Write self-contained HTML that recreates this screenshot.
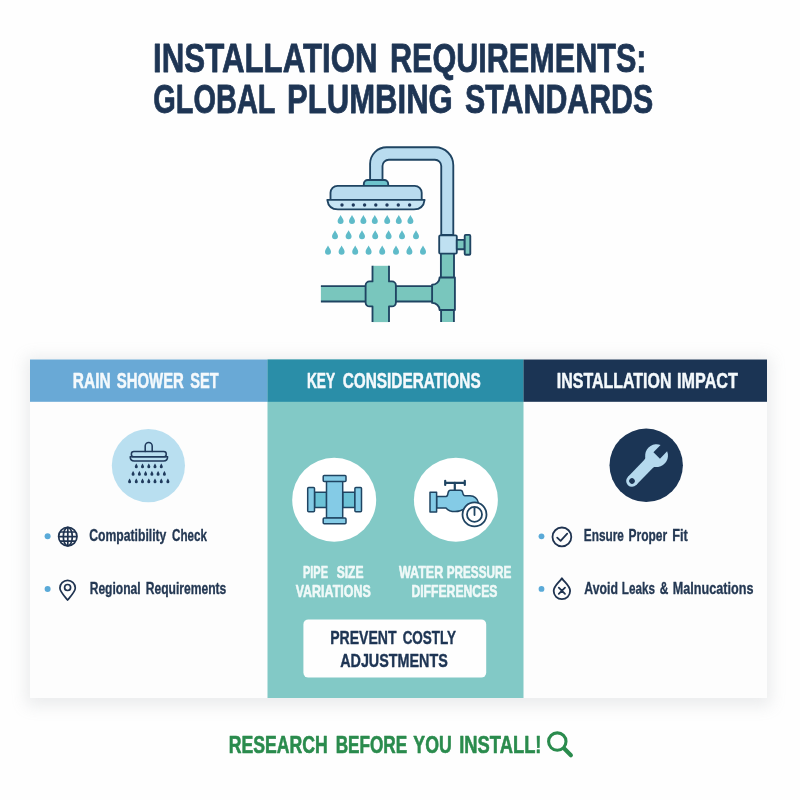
<!DOCTYPE html>
<html lang="en">
<head>
<meta charset="utf-8">
<title>Installation Requirements: Global Plumbing Standards</title>
<style>
html,body{margin:0;padding:0;background:#fefefe;}
body{width:800px;height:800px;overflow:hidden;position:relative;font-family:"Liberation Sans",sans-serif;}
svg{position:absolute;left:0;top:0;display:block;}
text{font-family:"Liberation Sans",sans-serif;}
.b{font-weight:bold;}
</style>
</head>
<body>
<svg width="800" height="800" viewBox="0 0 800 800">
<defs>
  <filter id="sh" x="-10%" y="-20%" width="120%" height="140%">
    <feGaussianBlur stdDeviation="8"/>
  </filter>
  <path id="drop" d="M0,-4.5 C1.2,-2.2 3,-0.3 3,1.6 A3,3 0 0 1 -3,1.6 C-3,-0.3 -1.2,-2.2 0,-4.5 Z"/>
  <path id="sdrop" d="M0,-2.4 C0.6,-1.2 1.5,-0.2 1.5,0.8 A1.5,1.5 0 0 1 -1.5,0.8 C-1.5,-0.2 -0.6,-1.2 0,-2.4 Z"/>
</defs>
<rect x="0" y="0" width="800" height="800" fill="#fefefe"/>

<!-- TITLE -->

<!-- HERO ILLUSTRATION -->
<g id="hero" stroke="#1f4462" stroke-width="1.85" stroke-linejoin="round" stroke-linecap="round">
  <!-- teal pipes -->
  <g fill="#79c6bd">
    <rect x="320.9" y="286.1" width="45" height="15.4" stroke="none"/>
    <path d="M320.9,286.1 H365.6 M320.9,301.5 H365.6" fill="none" stroke-linecap="butt"/>
    <rect x="395.9" y="286.1" width="36.2" height="15.4" stroke="none"/>
    <path d="M395.9,286.1 H432.1 M395.9,301.5 H432.1" fill="none" stroke-linecap="butt"/>
    <rect x="372.5" y="265.8" width="16.5" height="56.3" stroke="none"/>
    <rect x="365.6" y="281.4" width="30.3" height="25" rx="4" stroke="none"/>
    <path d="M372.5,265.8 V281.4 H369.6 A4,4 0 0 0 365.6,285.4 V302.4 A4,4 0 0 0 369.6,306.4 H372.5 V322.1 M389,265.8 V281.4 H391.9 A4,4 0 0 1 395.9,285.4 V302.4 A4,4 0 0 1 391.9,306.4 H389 V322.1" fill="none" stroke-linecap="butt"/>
    <rect x="440.9" y="254" width="13.1" height="68" stroke="none"/>
    <path d="M440.9,254 V278 M454,254 V278 M441.1,310 V322 M453.9,310 V322" fill="none" stroke-linecap="butt"/>
    <path d="M439.6,277.5 H454.9 V310 H439.6 A7.5,7.1 0 0 0 432.1,302.9 V284.7 A7.5,7.2 0 0 0 439.6,277.5 Z"/>
  </g>
  <!-- blue pipe -->
  <path d="M370.1,181 V163.7 A16.5,16.5 0 0 1 386.6,147.2 H435.3 A18,18 0 0 1 453.3,165.2 V235 H441.25 V166 A6.3,6.3 0 0 0 434.95,159.7 H388.8 A6.3,6.3 0 0 0 382.5,166 V181 Z" fill="#b9dcef"/>
  <!-- valve -->
  <rect x="439.2" y="235.4" width="17.6" height="18.2" rx="1.2" fill="#bfe0f1"/>
  <rect x="456.8" y="239.9" width="7.8" height="9.4" fill="#79c6bd"/>
  <rect x="464.7" y="234.9" width="5.6" height="19.8" rx="1" fill="#79c6bd"/>
  <!-- shower head -->
  <path d="M363.8,186 V184 A4,4 0 0 1 367.8,180 H384.2 A4,4 0 0 1 388.2,184 V186 Z" fill="#6cc3cc"/>
  <path d="M330.5,200 V192.8 A7,7 0 0 1 337.5,185.8 H414.7 A7,7 0 0 1 421.7,192.8 V200 Z" fill="#b9dcef"/>
  <path d="M327.3,199.8 H424.6 Q423.4,209.3 414,209.3 H337.9 Q328.5,209.3 327.3,199.8 Z" fill="#c6e4f3"/>
  <g fill="#1f3a5c" stroke="none">
    <circle cx="342" cy="205" r="1.7"/><circle cx="353.3" cy="205" r="1.7"/><circle cx="364.6" cy="205" r="1.7"/><circle cx="375.8" cy="205" r="1.7"/><circle cx="387" cy="205" r="1.7"/><circle cx="398.3" cy="205" r="1.7"/><circle cx="409.6" cy="205" r="1.7"/>
  </g>
  <!-- drops -->
  <g fill="#5fbbc9" stroke="none">
    <use href="#drop" x="340.6" y="219.5"/><use href="#drop" x="352" y="219.5"/><use href="#drop" x="363.4" y="219.5"/><use href="#drop" x="374.8" y="219.5"/><use href="#drop" x="387.2" y="219.5"/><use href="#drop" x="398.8" y="219.5"/><use href="#drop" x="410.4" y="219.5"/>
    <use href="#drop" x="335" y="234.7"/><use href="#drop" x="348.6" y="234.7"/><use href="#drop" x="362" y="234.7"/><use href="#drop" x="375.2" y="234.7"/><use href="#drop" x="388.6" y="234.7"/><use href="#drop" x="402" y="234.7"/><use href="#drop" x="416" y="234.7"/>
    <use href="#drop" x="328" y="250.1"/><use href="#drop" x="341.6" y="250.1"/><use href="#drop" x="355.2" y="250.1"/><use href="#drop" x="368.6" y="250.1"/><use href="#drop" x="382.2" y="250.1"/><use href="#drop" x="396" y="250.1"/><use href="#drop" x="409.4" y="250.1"/><use href="#drop" x="423" y="250.1"/>
  </g>
</g>

<!-- CARD -->
<rect x="26" y="357" width="745" height="349" fill="#8f959b" opacity="0.17" filter="url(#sh)"/>
<rect x="30" y="359.5" width="737" height="338.5" fill="#fdfdfd"/>
<rect x="267.5" y="359.5" width="256" height="338.5" fill="#82c9c6"/>
<rect x="30" y="359.5" width="237.5" height="42.3" fill="#69a9d6"/>
<rect x="267.5" y="359.5" width="256" height="42.3" fill="#2a8ea8"/>
<rect x="523.5" y="359.5" width="243.5" height="42.3" fill="#1b3454"/>


<!-- COLUMN 1 -->
<circle cx="148.4" cy="465.6" r="36.6" fill="#b9dff0"/>
<g id="ic-shower" fill="none" stroke="#1f3a5c" stroke-width="1.55" stroke-linejoin="round" stroke-linecap="round">
  <path d="M145.2,451.4 V446 A3.5,3.5 0 0 1 152.2,446 V451.4"/>
  <rect x="131.4" y="451.4" width="34.8" height="5.4" rx="2.4"/>
  <path d="M130.2,456.8 H167.6 Q167.6,461 163.6,461 H134.2 Q130.2,461 130.2,456.8 Z"/>
  <g fill="#1f3a5c" stroke="none">
    <use href="#sdrop" x="136.3" y="466"/><use href="#sdrop" x="142.5" y="466"/><use href="#sdrop" x="148.8" y="466"/><use href="#sdrop" x="155" y="466"/><use href="#sdrop" x="161.3" y="466"/>
    <use href="#sdrop" x="133.1" y="473.5"/><use href="#sdrop" x="139.4" y="473.5"/><use href="#sdrop" x="145.6" y="473.5"/><use href="#sdrop" x="151.9" y="473.5"/><use href="#sdrop" x="158.1" y="473.5"/><use href="#sdrop" x="164.4" y="473.5"/>
    <use href="#sdrop" x="129.6" y="481"/><use href="#sdrop" x="136.3" y="481"/><use href="#sdrop" x="142.5" y="481"/><use href="#sdrop" x="148.8" y="481"/><use href="#sdrop" x="155" y="481"/><use href="#sdrop" x="161.3" y="481"/><use href="#sdrop" x="167.9" y="481"/>
  </g>
</g>

<circle cx="47.6" cy="536.3" r="3" fill="#5aaad8"/>
<circle cx="47.6" cy="588.9" r="3" fill="#5aaad8"/>
<g id="ic-globe" fill="none" stroke="#1f3350" stroke-width="1.7">
  <circle cx="67.8" cy="536.6" r="9.2"/>
  <ellipse cx="67.8" cy="536.6" rx="4.5" ry="9.2"/>
  <path d="M67.8,527.4 V545.8 M58.6,536.6 H77 M59.9,532 H75.7 M59.9,541.2 H75.7"/>
</g>
<g id="ic-pin" fill="none" stroke="#1f3350" stroke-width="1.7" stroke-linejoin="round">
  <path d="M67.6,600 C63,594.6 59.9,591.4 59.9,588 A7.7,7.7 0 0 1 75.3,588 C75.3,591.4 72.2,594.6 67.6,600 Z"/>
  <circle cx="67.6" cy="587.5" r="3"/>
</g>

<!-- COLUMN 2 -->
<circle cx="334.2" cy="499.8" r="42" fill="#ffffff"/>
<g id="ic-cross" stroke="#1f4462" stroke-width="1.5" stroke-linejoin="round">
  <rect x="314.6" y="492.2" width="12" height="15.2" fill="#6cc2d6"/>
  <rect x="342.7" y="492.2" width="12.2" height="15.2" fill="#6cc2d6"/>
  <rect x="326.5" y="481.3" width="16.2" height="36.8" fill="#84cbe6"/>
  <rect x="323.2" y="475.6" width="22.8" height="5.8" rx="1" fill="#84cbe6"/>
  <rect x="323.2" y="518" width="22.8" height="5.8" rx="1" fill="#84cbe6"/>
  <rect x="307.7" y="487.6" width="6.8" height="24.2" rx="1" fill="#84cbe6"/>
  <rect x="354.9" y="487.6" width="6.6" height="24.2" rx="1" fill="#84cbe6"/>
</g>

<circle cx="455.9" cy="499.8" r="42" fill="#ffffff"/>
<g id="ic-faucet" stroke="#1f4462" stroke-width="1.5" stroke-linejoin="round" stroke-linecap="round">
  <path d="M445.2,482.9 H464.8 M445.2,480.8 V485 M464.8,480.8 V485" fill="none" stroke-width="2.2"/>
  <path d="M454.8,482.9 V490" fill="none" stroke-width="2.2"/>
  <path d="M436.6,496.6 H446 Q447.6,496.4 448,493.2 Q448.4,490.2 450.4,490.2 H460.4 Q462.4,490.2 462.8,493 Q463.2,495.8 465,495.8 H470 Q476.6,496 478.4,502.6 L472,506 Q468,506 466,507.6 Q461,511.6 455,511.6 Q449,511.6 446,508 H436.6 Z" fill="#84cbe6"/>
  <rect x="430" y="492.3" width="6.6" height="19.8" fill="#84cbe6"/>
  <circle cx="474.5" cy="514.4" r="12" fill="#ffffff" stroke-width="1.8"/>
  <circle cx="474.5" cy="514.4" r="7.5" fill="#ffffff" stroke-width="1.8"/>
  <path d="M474.5,508.2 V515" fill="none" stroke-width="1.8"/>
</g>


<rect x="303.4" y="619.4" width="182.8" height="58.2" rx="5" fill="#fefefe"/>

<!-- COLUMN 3 -->
<circle cx="646.2" cy="465.3" r="36.7" fill="#1b3555"/>
<g id="ic-wrench" fill="#b5d9ee" transform="translate(632 481) rotate(-45.9)">
  <circle cx="0" cy="0" r="5.85"/>
  <rect x="0" y="-5.85" width="27" height="11.7"/>
  <path d="M24,-5.85 Q26.5,-5.85 27.2,-7.4 L27.2,7.4 Q26.5,5.85 24,5.85 Z"/>
  <path d="M45.75,4.55 A11.4,11.4 0 1 1 45.75,-4.55 L35.5,-4.55 L35.5,4.55 Z"/>
  <circle cx="0" cy="0" r="2.8" fill="#1b3555"/>
</g>

<circle cx="541.5" cy="536.3" r="2.9" fill="#5aaad8"/>
<circle cx="541.5" cy="588.9" r="2.9" fill="#5aaad8"/>
<g id="ic-check" fill="none" stroke="#1f3350" stroke-width="1.8" stroke-linecap="round" stroke-linejoin="round">
  <circle cx="561.9" cy="536.9" r="9.4"/>
  <path d="M557.2,537.6 L560.6,540.8 L567.2,533.6"/>
</g>
<g id="ic-leak" fill="none" stroke="#1f3350" stroke-width="1.8" stroke-linecap="round" stroke-linejoin="round">
  <path d="M561.9,578.2 C564.6,582.6 570.1,585.8 570.1,591 A8.2,8.2 0 0 1 553.7,591 C553.7,585.8 559.2,582.6 561.9,578.2 Z"/>
  <path d="M558.8,587.7 L565,593.9 M565,587.7 L558.8,593.9"/>
</g>

<!-- FOOTER -->
<g id="footer">
  <circle cx="557.3" cy="741.6" r="8.7" fill="none" stroke="#2a8b4d" stroke-width="3.1"/>
  <path d="M564.2,748.5 L570.9,755.3" stroke="#2a8b4d" stroke-width="4.1" stroke-linecap="round" fill="none"/>
</g>
<g class="b" font-size="40.1" fill="#1e3554" stroke="#1e3554" stroke-width="0.8" stroke-linejoin="round" opacity="0.999">
  <text x="153.11" y="71.70" textLength="224.39" lengthAdjust="spacingAndGlyphs">INSTALLATION</text>
  <text x="389.90" y="71.70" textLength="256.64" lengthAdjust="spacingAndGlyphs">REQUIREMENTS:</text>
  <text x="153.23" y="113.00" textLength="122.34" lengthAdjust="spacingAndGlyphs">GLOBAL</text>
  <text x="287.07" y="113.00" textLength="165.72" lengthAdjust="spacingAndGlyphs">PLUMBING</text>
  <text x="465.10" y="113.00" textLength="188.14" lengthAdjust="spacingAndGlyphs">STANDARDS</text>
</g>
<g class="b" font-size="21.4" fill="#f4f9fc" stroke="#f4f9fc" stroke-width="0.5" stroke-linejoin="round" opacity="0.999">
  <text x="72.87" y="388.05" textLength="37.80" lengthAdjust="spacingAndGlyphs">RAIN</text>
  <text x="116.73" y="388.00" textLength="67.13" lengthAdjust="spacingAndGlyphs">SHOWER</text>
  <text x="190.24" y="388.00" textLength="28.34" lengthAdjust="spacingAndGlyphs">SET</text>
  <text x="306.89" y="388.05" textLength="28.17" lengthAdjust="spacingAndGlyphs">KEY</text>
  <text x="342.63" y="388.05" textLength="138.06" lengthAdjust="spacingAndGlyphs">CONSIDERATIONS</text>
  <text x="556.83" y="388.05" textLength="114.58" lengthAdjust="spacingAndGlyphs">INSTALLATION</text>
  <text x="677.12" y="388.05" textLength="60.75" lengthAdjust="spacingAndGlyphs">IMPACT</text>
</g>
<g class="b" font-size="17.3" fill="#243853" stroke="#243853" stroke-width="0.35" stroke-linejoin="round" opacity="0.999">
  <text x="89.25" y="540.93" textLength="77.12" lengthAdjust="spacingAndGlyphs">Compatibility</text>
  <text x="172.07" y="540.93" textLength="34.84" lengthAdjust="spacingAndGlyphs">Check</text>
  <text x="89.70" y="593.62" textLength="50.99" lengthAdjust="spacingAndGlyphs">Regional</text>
  <text x="145.70" y="593.62" textLength="80.65" lengthAdjust="spacingAndGlyphs">Requirements</text>
  <text x="583.82" y="541.12" textLength="40.11" lengthAdjust="spacingAndGlyphs">Ensure</text>
  <text x="628.51" y="541.12" textLength="38.66" lengthAdjust="spacingAndGlyphs">Proper</text>
  <text x="672.15" y="541.12" textLength="15.56" lengthAdjust="spacingAndGlyphs">Fit</text>
  <text x="584.32" y="593.83" textLength="33.60" lengthAdjust="spacingAndGlyphs">Avoid</text>
  <text x="621.83" y="593.83" textLength="33.11" lengthAdjust="spacingAndGlyphs">Leaks</text>
  <text x="659.66" y="593.83" textLength="8.60" lengthAdjust="spacingAndGlyphs">&amp;</text>
  <text x="672.86" y="593.83" textLength="80.55" lengthAdjust="spacingAndGlyphs">Malnucations</text>
</g>
<g class="b" font-size="16.9" fill="#f0f9f8" stroke="#f0f9f8" stroke-width="0.6" stroke-linejoin="round" opacity="0.999">
  <text x="302.99" y="577.60" textLength="25.00" lengthAdjust="spacingAndGlyphs">PIPE</text>
  <text x="336.64" y="577.60" textLength="26.83" lengthAdjust="spacingAndGlyphs">SIZE</text>
  <text x="295.72" y="597.40" textLength="74.97" lengthAdjust="spacingAndGlyphs">VARIATIONS</text>
  <text x="399.00" y="577.60" textLength="44.27" lengthAdjust="spacingAndGlyphs">WATER</text>
  <text x="446.63" y="577.60" textLength="64.75" lengthAdjust="spacingAndGlyphs">PRESSURE</text>
  <text x="411.40" y="597.40" textLength="86.00" lengthAdjust="spacingAndGlyphs">DIFFERENCES</text>
</g>
<g class="b" font-size="17.7" fill="#1e3554" stroke="#1e3554" stroke-width="0.4" stroke-linejoin="round" opacity="0.999">
  <text x="330.21" y="644.40" textLength="66.33" lengthAdjust="spacingAndGlyphs">PREVENT</text>
  <text x="402.63" y="644.40" textLength="53.46" lengthAdjust="spacingAndGlyphs">COSTLY</text>
  <text x="340.19" y="667.00" textLength="107.55" lengthAdjust="spacingAndGlyphs">ADJUSTMENTS</text>
</g>
<g class="b" font-size="24.1" fill="#2a8b4d" stroke="#2a8b4d" stroke-width="0.6" stroke-linejoin="round" opacity="0.999">
  <text x="228.70" y="753.30" textLength="99.06" lengthAdjust="spacingAndGlyphs">RESEARCH</text>
  <text x="335.63" y="753.30" textLength="71.62" lengthAdjust="spacingAndGlyphs">BEFORE</text>
  <text x="413.33" y="753.30" textLength="38.35" lengthAdjust="spacingAndGlyphs">YOU</text>
  <text x="459.26" y="753.30" textLength="82.22" lengthAdjust="spacingAndGlyphs">INSTALL!</text>
</g>
</svg>
</body>
</html>
